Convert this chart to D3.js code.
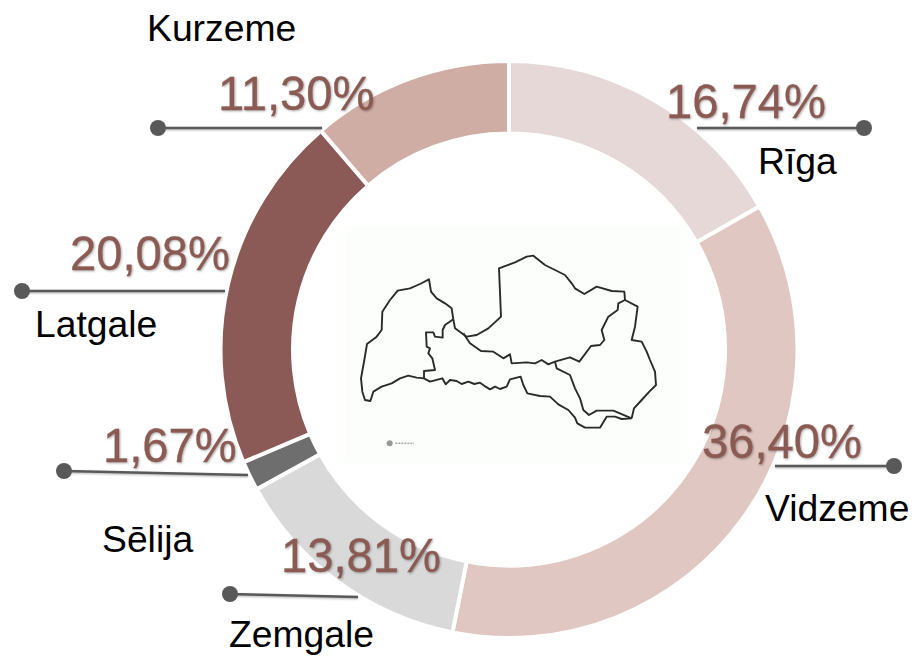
<!DOCTYPE html>
<html>
<head>
<meta charset="utf-8">
<style>
    html, body { margin: 0; padding: 0; background: #fff; }
    svg { display: block; }
    text { font-family: "Liberation Sans", Arial, sans-serif; }
    .pct { font-size: 47.2px; fill: #8b5a53; stroke: #8b5a53; stroke-width: .3; filter: drop-shadow(1.5px 1.5px 1.2px rgba(0,0,0,.32)); }
    .name { font-size: 37.3px; fill: #000; }
</style>
</head>
<body>
<svg id="chart" width="914" height="656"></svg>
<script src="https://cdn.jsdelivr.net/npm/d3@7"></script>
<script>
// Chart values, clockwise from 12 o'clock
const regions = ['Rīga', 'Vidzeme', 'Zemgale', 'Sēlija', 'Latgale', 'Kurzeme'];
const shares = [16.74, 36.40, 13.81, 1.67, 20.08, 11.30];
const colors = ['#e6d8d7', '#e0c7c2', '#d9d9d9', '#6e6e6e', '#8b5a56', '#d0ada4'];

// Map outline, in its own 1035x750 units
const mapCoast = [[340,298],[335,265],[315,250],[290,235],[273,215],[267,178],[240,192],[210,205],[173,212],[150,240],[127,275],[125,330],[110,350],[81,372],[73,420],[63,475],[67,515],[75,540],[91,543],[100,515],[125,500],[155,490],[180,475],[205,467],[230,473],[252,475]];
const mapKurzemeBorder = [[340,298],[315,315],[308,330],[308,353],[285,350],[280,337],[258,337],[260,380],[270,385],[265,400],[277,415],[285,450],[252,453],[252,475]];
const mapSouth = [[252,475],[270,485],[307,475],[317,493],[330,480],[350,483],[365,492],[385,485],[403,492],[420,488],[437,500],[450,508],[465,500],[480,507],[500,500],[510,478],[542,470],[550,495],[562,520],[600,528],[630,530],[655,553],[685,570],[705,593],[712,610],[735,623],[780,623],[800,590],[825,590],[845,597],[875,595]];
const mapEast = [[875,595],[882,565],[905,540],[928,515],[948,495],[945,455],[930,420],[920,395],[905,365],[875,360],[885,320],[893,260],[855,240]];
const mapNorth = [[855,240],[853,215],[815,213],[770,200],[733,222],[705,205],[695,190],[675,165],[645,150],[615,135],[580,107],[560,110],[525,127],[477,145],[483,290],[445,325],[410,345],[380,350],[345,325],[340,298]];
const mapVidzemeBorder = [[855,240],[835,250],[833,270],[805,290],[785,330],[793,360],[780,375],[753,378],[718,425],[690,412],[645,425],[625,433],[605,420],[585,430],[560,427],[515,430],[510,403],[490,415],[460,395],[423,393],[390,370],[370,340]];
const mapLatgaleBorder = [[645,425],[650,445],[690,465],[705,505],[720,535],[730,570],[747,585],[770,572],[795,572],[820,572],[875,595]];
const mapLines = [mapCoast, mapKurzemeBorder, mapSouth, mapEast, mapNorth, mapVidzemeBorder, mapLatgaleBorder];

// Hand placed annotations: dot, line end, percent label, region label
const notes = {
    'Rīga':    { dot: [864, 128], end: [697, 128], pct: [666, 118], name: [758, 174] },
    'Vidzeme': { dot: [894, 466], end: [775, 466], pct: [702, 458], name: [765, 521] },
    'Zemgale': { dot: [230, 594], end: [358, 597], pct: [281, 572], name: [229, 647] },
    'Sēlija':  { dot: [64, 471],  end: [248, 475], pct: [103, 462], name: [102, 552] },
    'Latgale': { dot: [22, 291],  end: [225, 291], pct: [70, 270],  name: [35, 337] },
    'Kurzeme': { dot: [158, 128], end: [322, 128], pct: [218, 110], name: [147, 41] }
};

const svg = d3.select('#chart');
const center = [509, 349.5];

const color = d3.scaleOrdinal().domain(regions).range(colors);
const table = regions.map((name, i) => ({ name, share: shares[i] }));
const pie = d3.pie().value(d => d.share).sort(null);
const arc = d3.arc().innerRadius(216).outerRadius(288.5);

// Ring
svg.append('g')
    .attr('transform', `translate(${center})`)
    .selectAll('path')
    .data(pie(table))
    .enter()
    .append('path')
    .attr('d', arc)
    .attr('fill', d => color(d.data.name))
    .attr('stroke', '#fff')
    .attr('stroke-width', 4);

// Map in the hole
const mapX = d3.scaleLinear().domain([0, 1035]).range([340, 685]);
const mapY = d3.scaleLinear().domain([0, 750]).range([220, 470]);
const mapLine = d3.line().x(d => mapX(d[0])).y(d => mapY(d[1]));

svg.append('rect')
    .attr('x', mapX(15)).attr('y', mapY(18))
    .attr('width', mapX(1020) - mapX(15)).attr('height', mapY(730) - mapY(18))
    .attr('fill', '#fcfefc');

svg.append('g')
    .selectAll('path')
    .data(mapLines)
    .enter()
    .append('path')
    .attr('d', mapLine)
    .attr('fill', 'none')
    .attr('stroke', '#2a2a2a')
    .attr('stroke-width', 1.9)
    .attr('stroke-linejoin', 'round');

// Tiny logo under the map
svg.append('circle')
    .attr('cx', mapX(149)).attr('cy', mapY(670)).attr('r', 3)
    .attr('fill', '#999');
svg.append('line')
    .attr('x1', mapX(166)).attr('x2', mapX(222))
    .attr('y1', mapY(670)).attr('y2', mapY(670))
    .attr('stroke', '#aaa').attr('stroke-width', 1.5)
    .attr('stroke-dasharray', '2,1');

// Leader lines
const leaders = svg.append('g');
regions.forEach(name => {
    const n = notes[name];
    leaders.append('line')
        .attr('x1', n.dot[0]).attr('y1', n.dot[1])
        .attr('x2', n.end[0]).attr('y2', n.end[1])
        .attr('stroke', '#595959')
        .attr('stroke-width', 2.5)
        .style('filter', 'drop-shadow(0 1px 1px rgba(0,0,0,.3))');
    leaders.append('circle')
        .attr('cx', n.dot[0]).attr('cy', n.dot[1]).attr('r', 8)
        .attr('fill', '#595959');
});

// Labels
regions.forEach((name, i) => {
    const n = notes[name];
    svg.append('text')
        .attr('class', 'pct')
        .attr('x', n.pct[0]).attr('y', n.pct[1])
        .text(shares[i].toFixed(2).replace('.', ',') + '%');
    svg.append('text')
        .attr('class', 'name')
        .attr('x', n.name[0]).attr('y', n.name[1])
        .text(name);
});
</script>
</body>
</html>
